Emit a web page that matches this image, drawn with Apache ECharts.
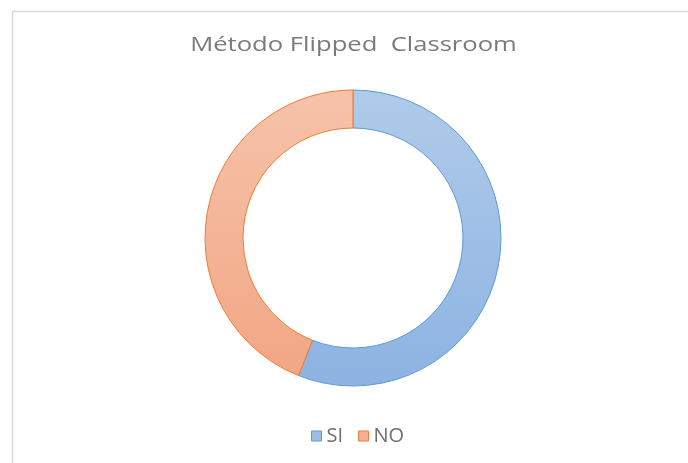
<!DOCTYPE html>
<html>
<head>
<meta charset="utf-8">
<script src="https://cdn.jsdelivr.net/npm/echarts@6/dist/echarts.min.js"></script>
<style>html,body{margin:0;padding:0;background:#fff}#c{width:688px;height:463px}</style>
</head>
<body>
<div id="c"></div>
<script>
const titleText = 'Método Flipped  Classroom';
const categories = ['SI', 'NO'];
const values = [56, 44];

const chart = echarts.init(document.getElementById('c'));
const fills = [
  new echarts.graphic.LinearGradient(0, 0, 0, 1, [{offset: 0, color: '#b0cbea'}, {offset: 1, color: '#8db3e2'}]),
  new echarts.graphic.LinearGradient(0, 0, 0, 1, [{offset: 0, color: '#f6c3aa'}, {offset: 1, color: '#f2a684'}])
];
const borders = ['#5b9bd5', '#ed7d31'];
const legendFills = ['#9dbfe6', '#f4b094'];
chart.setOption({
  animation: false,
  graphic: [{
    type: 'rect', left: 10, top: 9, silent: true,
    shape: {width: 700, height: 500},
    style: {fill: 'none', stroke: '#d9d9d9', lineWidth: 1.5}
  }, {
    type: 'text', x: 353.5, y: 45, scaleX: 1.28, silent: true,
    style: {
      text: titleText, align: 'center', verticalAlign: 'middle',
      fontFamily: 'Open Sans', fontSize: 20, fill: '#7a7a7a'
    }
  }],
  legend: {
    left: 306, top: 421, itemWidth: 10, itemHeight: 10, itemGap: 15, icon: 'rect',
    textStyle: {fontFamily: 'Open Sans', fontSize: 20, color: '#6e6e6e', padding: [0, 0, 0, 0]},
    data: categories.map((n, i) => ({
      name: n, icon: 'rect',
      itemStyle: {color: legendFills[i], borderColor: borders[i], borderWidth: 1}
    }))
  },
  color: ['#8db3e2', '#f2a684'],
  series: [{
    type: 'pie', center: [353, 238], radius: [110, 148], startAngle: 90, clockwise: true,
    label: {show: false}, labelLine: {show: false},
    emphasis: {disabled: true},
    data: categories.map((n, i) => ({
      name: n, value: values[i],
      itemStyle: {color: fills[i], borderColor: borders[i], borderWidth: 1}
    }))
  }]
});
</script>
</body>
</html>
